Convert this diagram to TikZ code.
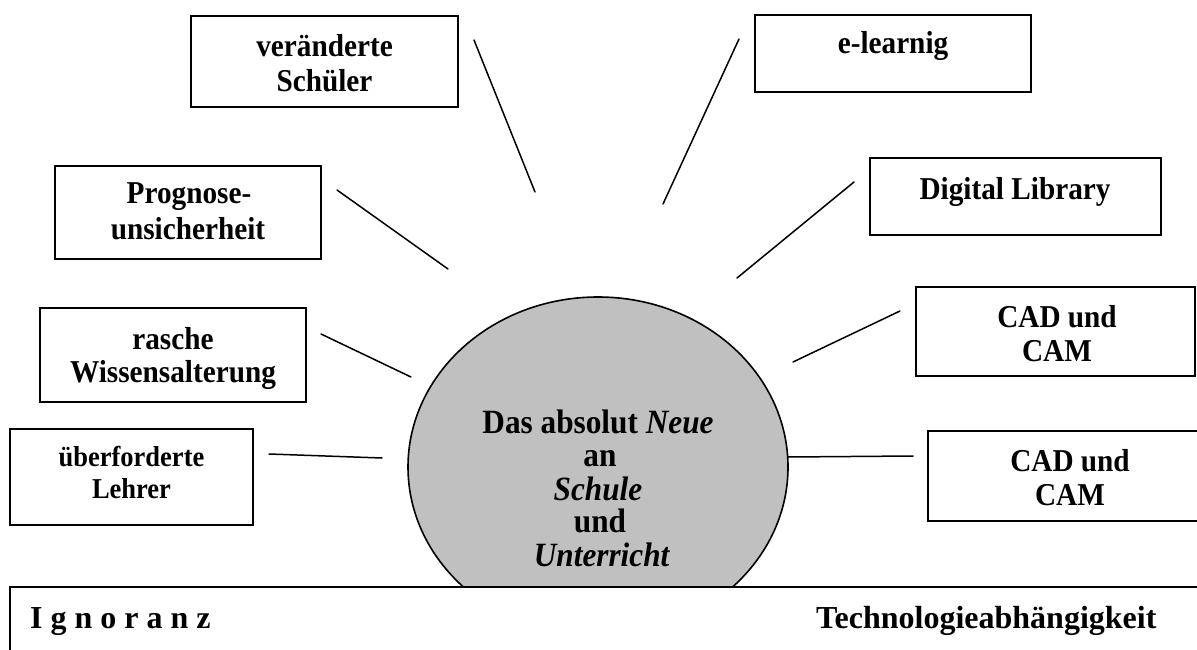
\documentclass[tikz,border=0pt]{standalone}
\usepackage{fontspec}
\setmainfont{Liberation Serif}
\newfontfamily\narrowserif{Liberation Serif}[FakeStretch=0.92]
\usetikzlibrary{shapes.geometric}
\begin{document}
\begin{tikzpicture}[x=1pt,y=-1pt,
  box/.style={draw=black, line width=1.6pt, fill=white, inner sep=0pt, rectangle},
  lbl/.style={font=\narrowserif\bfseries\fontsize{31.8}{36}\selectfont, anchor=base, inner sep=0pt},
  lbls/.style={font=\narrowserif\bfseries\fontsize{28.8}{33}\selectfont, anchor=base, inner sep=0pt},
  clbl/.style={font=\narrowserif\bfseries\fontsize{34}{39}\selectfont, anchor=base, inner sep=0pt},
  blbl/.style={font=\bfseries\fontsize{32}{37}\selectfont, anchor=base west, inner sep=0pt},
  conn/.style={line width=1.5pt, line cap=round}]
\useasboundingbox (0,0) rectangle (1197,650);
\fill[white] (0,0) rectangle (1197,650);

% central ellipse
\node[ellipse, draw=black, line width=1.6pt, fill={rgb,255:red,192;green,192;blue,192},
      minimum width=380pt, minimum height=340pt, inner sep=0pt] (core) at (598,467) {};

% bottom bar
\node[box, line width=2.2pt, anchor=north west, minimum width=1220pt, minimum height=90pt] (bar) at (9,586) {};
\node[blbl] (ign) at (30,628) {I g n o r a n z};
\node[blbl] (tech) at (816,628) {Technologieabhängigkeit};

% core text
\node[clbl] (c1) at (598,433) {Das absolut \textit{Neue}};
\node[clbl] (c2) at (600,466) {an};
\node[clbl] (c3) at (598,500) {\textit{Schule}};
\node[clbl] (c4) at (600,532) {und};
\node[clbl] (c5) at (602,566) {\textit{Unterricht}};

% boxes left
\node[box, minimum width=267pt, minimum height=91pt] (vs) at (324.5,61.5) {};
\node[lbl] (vs1) at (324.5,57) {veränderte};
\node[lbl] (vs2) at (324.5,92) {Schüler};

\node[box, minimum width=266pt, minimum height=93pt] (pr) at (188,212.5) {};
\node[lbl] (pr1) at (189,204) {Prognose-};
\node[lbl] (pr2) at (188,239) {unsicherheit};

\node[box, minimum width=266pt, minimum height=94pt] (ra) at (173,355) {};
\node[lbl] (ra1) at (173,349) {rasche};
\node[lbl] (ra2) at (173,382) {Wissensalterung};

\node[box, minimum width=243pt, minimum height=96pt] (ue) at (131.5,477) {};
\node[lbls] (ue1) at (131.5,466) {überforderte};
\node[lbls] (ue2) at (131.5,498) {Lehrer};

% boxes right
\node[box, minimum width=276pt, minimum height=77pt] (el) at (893,53.5) {};
\node[lbl] (el1) at (893,54) {e-learnig};

\node[box, minimum width=291pt, minimum height=77pt] (dl) at (1015.5,196.5) {};
\node[lbl] (dl1) at (1015,199) {Digital Library};

\node[box, minimum width=279pt, minimum height=89pt] (cadA) at (1055.5,331.5) {};
\node[lbl] (cadA1) at (1057,327) {CAD und};
\node[lbl] (cadA2) at (1057,361) {CAM};

\node[box, minimum width=284pt, minimum height=90pt] (cadB) at (1070,476) {};
\node[lbl] (cadB1) at (1070,471) {CAD und};
\node[lbl] (cadB2) at (1070,505) {CAM};

% connector ends
\coordinate (vsA) at (474,40);   \coordinate (vsB) at (535,192);
\coordinate (prA) at (337,190);  \coordinate (prB) at (448,269);
\coordinate (raA) at (321,334);  \coordinate (raB) at (411,377);
\coordinate (ueA) at (269,454);  \coordinate (ueB) at (382,458);
\coordinate (elA) at (739,39);   \coordinate (elB) at (663,204);
\coordinate (dlA) at (854,182);  \coordinate (dlB) at (737,278);
\coordinate (cadAa) at (900,311); \coordinate (cadAb) at (793,362);
\coordinate (cadBa) at (913,456); \coordinate (cadBb) at (788,457);

\draw[conn] (vsA) -- (vsB);
\draw[conn] (prA) -- (prB);
\draw[conn] (raA) -- (raB);
\draw[conn] (ueA) -- (ueB);
\draw[conn] (elA) -- (elB);
\draw[conn] (dlA) -- (dlB);
\draw[conn] (cadAa) -- (cadAb);
\draw[conn] (cadBa) -- (cadBb);
\end{tikzpicture}
\end{document}
